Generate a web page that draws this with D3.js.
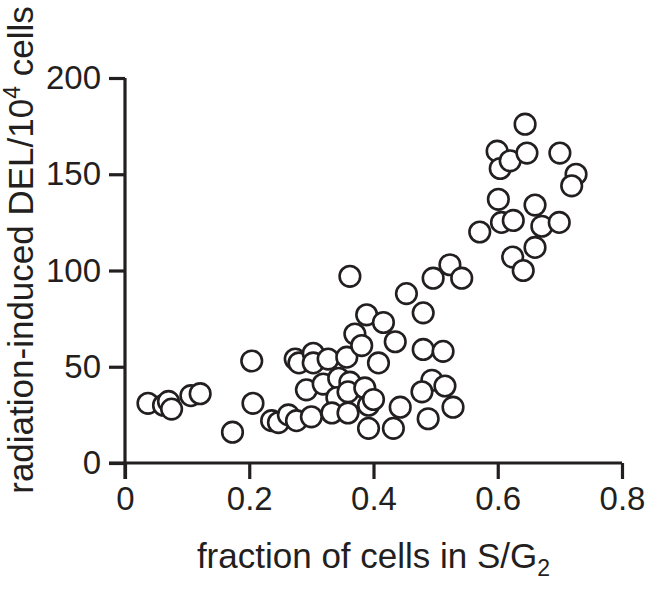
<!DOCTYPE html>
<html>
<head>
<meta charset="utf-8">
<script src="https://cdn.jsdelivr.net/npm/d3@7"></script>
<style>
  html, body { margin: 0; padding: 0; background: #fff; }
  svg { display: block; }
  text { font-family: "Liberation Sans", Arial, Helvetica, sans-serif; fill: #231f20; }
</style>
</head>
<body>
<svg id="chart" width="654" height="589"></svg>
<script>
// fraction of cells in S/G2
const xValues = [
  0.037, 0.062, 0.070, 0.075, 0.106, 0.121, 0.173, 0.204, 0.206,
  0.236, 0.247, 0.263, 0.276, 0.300, 0.274, 0.280, 0.303, 0.303, 0.292,
  0.327, 0.319, 0.344, 0.341, 0.333, 0.359, 0.357, 0.362, 0.359, 0.362, 0.370,
  0.381, 0.386, 0.392, 0.392, 0.389, 0.400, 0.408, 0.416, 0.432, 0.435,
  0.443, 0.453,
  0.480, 0.480, 0.512, 0.494, 0.515, 0.478, 0.488, 0.528, 0.496, 0.523, 0.542,
  0.571, 0.599, 0.604, 0.620, 0.647, 0.644, 0.700, 0.726, 0.719, 0.601,
  0.606, 0.625, 0.660, 0.671, 0.699, 0.660, 0.624, 0.641
];
// radiation-induced DEL per 10^4 cells
const yValues = [
  31, 30, 32, 28, 35, 36, 16, 53, 31,
  22, 21, 25, 22, 24, 54, 52, 57, 52, 38,
  54, 41, 44, 34, 26, 26, 55, 42, 37, 97, 67,
  61, 39, 30, 18, 77, 33, 52, 73, 18, 63,
  29, 88,
  78, 59, 58, 43, 40, 37, 23, 29, 96, 103, 96,
  120, 162, 153, 157, 161, 176, 161, 150, 144, 137,
  125, 126, 134, 123, 125, 112, 107, 100
];
const xTicks = [0, 0.2, 0.4, 0.6, 0.8];
const xTickLabels = ["0", "0.2", "0.4", "0.6", "0.8"];
const yTicks = [0, 50, 100, 150, 200];
const yTickLabels = ["0", "50", "100", "150", "200"];

const svg = d3.select("#chart");
const mLeft = 125, mRight = 622, mTop = 78, mBottom = 463;
const x = d3.scaleLinear().domain([0, 0.8]).range([mLeft, mRight]);
const y = d3.scaleLinear().domain([0, 200]).range([mBottom, mTop]);
const ink = "#231f20";

const xAxis = svg.append("g")
  .attr("transform", `translate(0,${mBottom})`)
  .call(d3.axisBottom(x).tickValues(xTicks).tickFormat((d, i) => xTickLabels[i])
    .tickSize(16).tickSizeOuter(0).tickPadding(8));
const yAxis = svg.append("g")
  .attr("transform", `translate(${mLeft},0)`)
  .call(d3.axisLeft(y).tickValues(yTicks).tickFormat((d, i) => yTickLabels[i])
    .tickSize(16).tickSizeOuter(0).tickPadding(8));

[xAxis, yAxis].forEach(g => {
  g.select(".domain").attr("stroke", ink).attr("stroke-width", 3.2);
  g.selectAll(".tick line").attr("stroke", ink).attr("stroke-width", 3.2);
  g.selectAll(".tick text").attr("font-size", 33).attr("fill", ink)
    .attr("font-family", "'Liberation Sans', Arial, sans-serif");
});
xAxis.select(".domain").attr("d", `M${mLeft - 16},0H${mRight}`);
yAxis.select(".domain").attr("d", `M0,${mTop}V${mBottom + 16}`);

// points
const pts = xValues.map((v, i) => ({ x: v, y: yValues[i] }));
svg.append("g").selectAll("circle").data(pts).join("circle")
  .attr("cx", d => x(d.x))
  .attr("cy", d => y(d.y))
  .attr("r", 10.3)
  .attr("fill", "#fff")
  .attr("stroke", ink)
  .attr("stroke-width", 2.6);

// x title
const xt = svg.append("text")
  .attr("x", (mLeft + mRight) / 2)
  .attr("y", 568)
  .attr("text-anchor", "middle")
  .attr("font-size", 35);
xt.append("tspan").text("fraction of cells in S/G");
xt.append("tspan").attr("font-size", 23).attr("dy", 8).text("2");

// y title
const yt = svg.append("text")
  .attr("transform", "translate(33,250) rotate(-90)")
  .attr("text-anchor", "middle")
  .attr("font-size", 35);
yt.append("tspan").text("radiation-induced DEL/10");
yt.append("tspan").attr("font-size", 23).attr("dy", -13).text("4");
yt.append("tspan").attr("dy", 13).text(" cells");
</script>
</body>
</html>
